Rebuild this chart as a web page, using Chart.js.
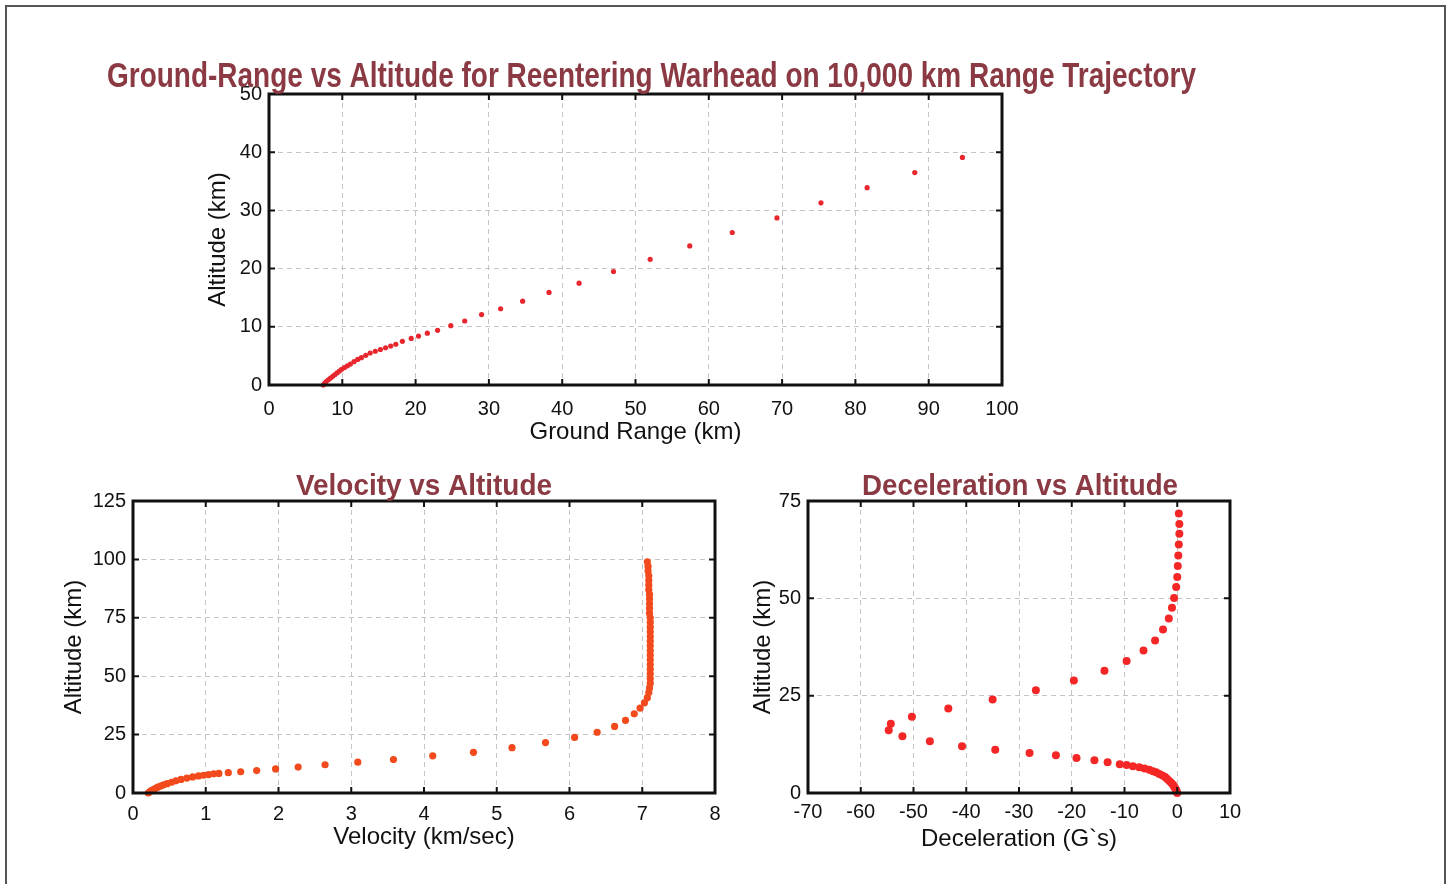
<!DOCTYPE html>
<html>
<head>
<meta charset="utf-8">
<title>Reentering warhead</title>
<script src="https://cdn.jsdelivr.net/npm/chart.js@4.4.1/dist/chart.umd.min.js"></script>
<style>
  body { margin: 0; background: #fff; width: 1450px; height: 884px; overflow: hidden; position: relative; }
  #frame { position: absolute; left: 5px; top: 5px; width: 1437px; height: 900px; border: 2px solid #555; }
  canvas { position: absolute; }
</style>
</head>
<body>
<div id="frame"></div>
<canvas id="range_chart" width="1103" height="415" style="left:100px;top:40px"></canvas>
<canvas id="velocity_chart" width="808" height="402" style="left:20px;top:455px"></canvas>
<canvas id="decel_chart" width="578" height="402" style="left:730px;top:455px"></canvas>
<script>
// ground range vs altitude (km)
var range_km = [7.4,7.6,7.8,8.1,8.4,8.7,9.0,9.3,9.6,9.9,10.3,10.7,11.1,11.6,12.1,12.6,13.2,13.8,14.5,15.2,15.9,16.6,17.3,
  18.2,19.4,20.4,21.6,23.0,24.8,26.7,29.0,31.6,34.6,38.2,42.3,47.0,52.0,57.4,63.2,69.3,75.3,81.6,88.1,94.6];
var range_alt = [0.0,0.3,0.6,0.9,1.2,1.5,1.8,2.1,2.4,2.7,3.0,3.3,3.6,4.0,4.4,4.7,5.1,5.5,5.8,6.1,6.4,6.7,7.0,
  7.5,8.0,8.4,8.9,9.4,10.2,11.0,12.1,13.1,14.4,15.9,17.5,19.5,21.6,23.9,26.2,28.7,31.3,33.9,36.5,39.1];

// velocity (km/sec) vs altitude (km)
var velocity = [0.21,0.23,0.25,0.28,0.31,0.34,0.38,0.42,0.47,0.53,0.59,0.66,0.74,0.82,0.90,0.97,1.04,1.11,1.18,1.31,1.48,
  1.70,1.96,2.27,2.64,3.09,3.58,4.12,4.68,5.21,5.67,6.07,6.38,6.62,6.77,6.89,6.97,7.03,7.07,7.09,7.10,7.11,
  7.11,7.11,7.11,7.11,7.11,7.11,7.11,7.11,7.11,7.11,7.11,7.11,7.11,7.11,7.10,7.10,7.10,7.10,7.10,
  7.09,7.09,7.09,7.09,7.08,7.08,7.07];
var velocity_alt = [0.0,0.5,1.0,1.5,2.0,2.5,3.0,3.5,4.0,4.6,5.2,5.8,6.4,6.9,7.3,7.6,7.9,8.2,8.4,8.7,9.1,
  9.6,10.3,11.1,12.1,13.2,14.3,15.9,17.4,19.4,21.6,23.8,26.0,28.5,31.1,33.9,36.3,38.6,40.8,43.0,45.0,47.0,
  49,51,53,55,57,59,61,63,65,67,69,71,73,75,77,79,81,83,85,
  87,89,91,93,95,97,99];

// deceleration (G's) vs altitude (km)
var decel = [0.3,0.4,0.4,0.3,0.2,0.1,0.0,-0.2,-0.6,-1.0,-1.6,-2.7,-4.2,-6.4,-9.6,-13.8,-19.6,-26.8,-35.0,-43.4,
  -50.3,-54.3,-54.7,-52.1,-46.9,-40.8,-34.5,-28.0,-23.0,-19.1,-15.7,-13.2,-10.9,-9.6,-8.4,-7.2,-6.2,-5.3,
  -4.6,-4.0,-3.4,-2.8,-2.3,-1.9,-1.5,-1.1,-0.8,-0.6,-0.4,-0.2,-0.1,0.0];
var decel_alt = [71.8,69.1,66.6,63.8,61.0,58.3,55.5,52.9,50.1,47.6,44.8,42.0,39.2,36.6,33.9,31.4,28.9,26.4,24.0,21.7,
  19.6,17.8,16.1,14.6,13.3,12.0,11.1,10.3,9.7,9.0,8.4,7.9,7.4,7.2,6.9,6.6,6.3,6.0,
  5.6,5.3,4.9,4.5,4.1,3.6,3.1,2.6,2.1,1.6,1.2,0.8,0.4,0.0];

var title_color = '#8b3a44';
var plain = "'Liberation Sans', Arial, sans-serif";

function toPoints(xs, ys) {
  var pts = [];
  xs.forEach(function(x, i) { pts.push({x: x, y: ys[i]}); });
  return pts;
}

// black box round the plot with small inward ticks, like the matlab axes
var boxAxes = {
  id: 'boxAxes',
  afterDatasetsDraw: function(chart) {
    var ctx = chart.ctx, a = chart.chartArea;
    var xs = chart.scales.x, ys = chart.scales.y;
    ctx.save();
    ctx.strokeStyle = '#111';
    ctx.lineWidth = 2;
    ctx.beginPath();
    xs.ticks.forEach(function(t) {
      var px = xs.getPixelForValue(t.value);
      ctx.moveTo(px, a.bottom); ctx.lineTo(px, a.bottom - 6);
      ctx.moveTo(px, a.top); ctx.lineTo(px, a.top + 6);
    });
    ys.ticks.forEach(function(t) {
      var py = ys.getPixelForValue(t.value);
      ctx.moveTo(a.left, py); ctx.lineTo(a.left + 6, py);
      ctx.moveTo(a.right, py); ctx.lineTo(a.right - 6, py);
    });
    ctx.stroke();
    ctx.lineWidth = 3;
    ctx.strokeRect(a.left, a.top, a.right - a.left, a.bottom - a.top);
    ctx.restore();
  }
};

// condensed bold title above the plot (text squeezed to the given width)
var squeezedTitle = {
  id: 'squeezedTitle',
  afterDraw: function(chart, args, opts) {
    var ctx = chart.ctx, a = chart.chartArea;
    ctx.save();
    ctx.font = 'bold ' + opts.size + 'px ' + plain;
    ctx.fillStyle = title_color;
    ctx.textAlign = 'center';
    ctx.textBaseline = 'alphabetic';
    ctx.fillText(opts.text, (a.left + a.right) / 2 + opts.shift, a.top - opts.gap, opts.width);
    ctx.restore();
  }
};

function makeChart(id, cfg) {
  var ctx = document.getElementById(id);
  return new Chart(ctx, {
    type: 'scatter',
    data: {
      datasets: [{
        data: toPoints(cfg.xs, cfg.ys),
        backgroundColor: cfg.color,
        borderWidth: 0,
        pointRadius: cfg.radius,
        clip: false
      }]
    },
    options: {
      responsive: false,
      animation: false,
      layout: {padding: {left: 0, right: cfg.padRight, top: cfg.padTop, bottom: 0}},
      plugins: {
        legend: {display: false},
        tooltip: {enabled: false},
        title: {display: false},
        squeezedTitle: cfg.title
      },
      scales: {
        x: {
          type: 'linear',
          min: cfg.xMin, max: cfg.xMax,
          afterFit: function(scale) { scale.height = cfg.xHeight; },
          ticks: {stepSize: cfg.xStep, color: '#111', padding: cfg.xTickPad, maxRotation: 0,
            font: {family: plain, size: 20, lineHeight: 1.2}},
          grid: {color: '#c4c4c4', lineWidth: 1, drawTicks: false},
          border: {display: false, dash: [5, 4]},
          title: {display: true, text: cfg.xLabel, color: '#111',
            font: {family: plain, size: 24, lineHeight: 1.2}, padding: {top: 0, bottom: cfg.xTitlePad}}
        },
        y: {
          type: 'linear',
          min: cfg.yMin, max: cfg.yMax,
          afterFit: function(scale) { scale.width = cfg.yWidth; },
          ticks: {stepSize: cfg.yStep, color: '#111', padding: 7,
            font: {family: plain, size: 20, lineHeight: 1.2}},
          grid: {color: '#c4c4c4', lineWidth: 1, drawTicks: false},
          border: {display: false, dash: [5, 4]},
          title: {display: true, text: 'Altitude (km)', color: '#111',
            font: {family: plain, size: 24, lineHeight: 1.2}, padding: {top: cfg.yTitlePad, bottom: 0}}
        }
      }
    },
    plugins: [boxAxes, squeezedTitle]
  });
}

makeChart('range_chart', {
  title: {text: 'Ground-Range vs Altitude for Reentering Warhead on 10,000 km Range Trajectory',
    size: 35, width: 1089, shift: 16, gap: 7},
  xs: range_km, ys: range_alt, color: '#e8262e', radius: 2.6,
  xMin: 0, xMax: 100, xStep: 10, yMin: 0, yMax: 50, yStep: 10,
  xLabel: 'Ground Range (km)',
  padRight: 201, padTop: 54,
  xHeight: 70, xTickPad: 12, xTitlePad: 8, yWidth: 169, yTitlePad: 104
});

makeChart('velocity_chart', {
  title: {text: 'Velocity vs Altitude', size: 30, width: 256, shift: 0, gap: 6},
  xs: velocity, ys: velocity_alt, color: '#f24a1c', radius: 3.6,
  xMin: 0, xMax: 8, xStep: 1, yMin: 0, yMax: 125, yStep: 25,
  xLabel: 'Velocity (km/sec)',
  padRight: 113, padTop: 46,
  xHeight: 64, xTickPad: 9, xTitlePad: 5, yWidth: 113, yTitlePad: 40
});

makeChart('decel_chart', {
  title: {text: 'Deceleration vs Altitude', size: 30, width: 316, shift: 1, gap: 6},
  xs: decel, ys: decel_alt, color: '#f42626', radius: 4,
  xMin: -70, xMax: 10, xStep: 10, yMin: 0, yMax: 75, yStep: 25,
  xLabel: 'Deceleration (G`s)',
  padRight: 78, padTop: 46,
  xHeight: 64, xTickPad: 7, xTitlePad: 3, yWidth: 78, yTitlePad: 19
});
</script>
</body>
</html>
